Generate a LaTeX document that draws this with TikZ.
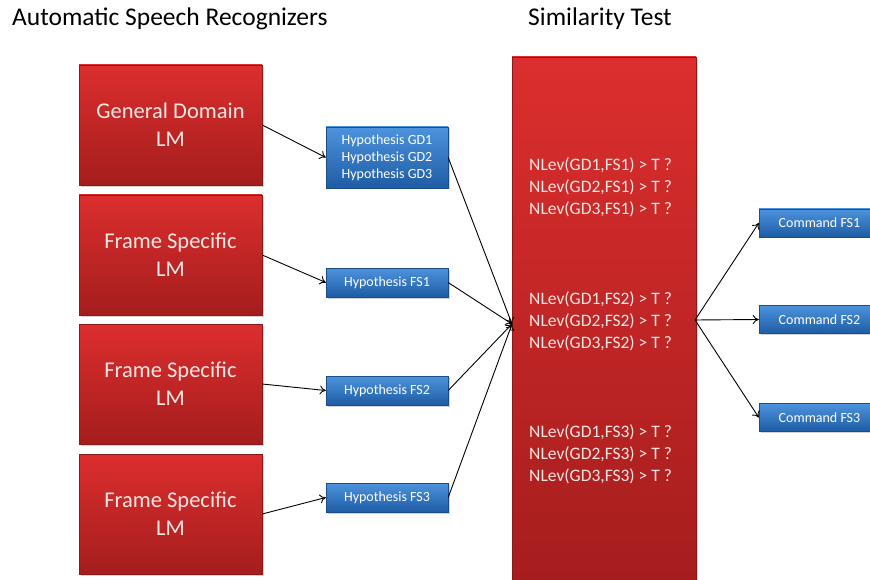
\documentclass[tikz,border=0pt]{standalone}
\usepackage{fontspec}
\setmainfont{Carlito}
\usetikzlibrary{shadows,arrows.meta}
\definecolor{redtop}{HTML}{DC2E2E}
\definecolor{redbot}{HTML}{A51D1D}
\definecolor{bluetop}{HTML}{4D93DD}
\definecolor{bluebot}{HTML}{1E5CA4}
\definecolor{pinkwhite}{HTML}{FBE6E2}

\tikzset{
  redbox/.style={rectangle, top color=redtop, bottom color=redbot, draw=redbot!85!black,
    line width=0.4pt, text=pinkwhite, align=center, inner sep=0pt,
    drop shadow={opacity=0.35, shadow xshift=2pt, shadow yshift=-2pt}},
  asr/.style={redbox, minimum width=183pt, minimum height=120pt,
    font=\fontsize{22.5}{28}\selectfont},
  bluebox/.style={rectangle, top color=bluetop, bottom color=bluebot, draw=bluebot!85!black,
    line width=0.4pt, text=white, align=center, inner sep=0pt,
    drop shadow={opacity=0.35, shadow xshift=1.5pt, shadow yshift=-1.5pt}},
  hyp/.style={bluebox, minimum width=122pt, minimum height=29pt,
    font=\fontsize{14}{17}\selectfont},
  cmd/.style={bluebox, minimum width=121pt, minimum height=28pt,
    font=\fontsize{14}{17}\selectfont},
  test/.style={text=pinkwhite, align=left, anchor=west, inner sep=0pt,
    font=\fontsize{17.5}{22}\selectfont},
  title/.style={font=\fontsize{25.5}{30}\selectfont, inner sep=0pt},
  arr/.style={-{To[length=6pt,width=9pt]}, line width=0.9pt, black}
}

\begin{document}
\begin{tikzpicture}[x=1pt,y=-1pt]
  \useasboundingbox (0,0) rectangle (870,580);
  \clip (0,0) rectangle (870,580);

  % titles
  \node[title, anchor=base west] (asrtitle) at (12,26) {Automatic Speech Recognizers};
  \node[title, anchor=base] (testtitle) at (600,26) {Similarity Test};

  % recognizers
  \node[asr] (asr1) at (170.5,125) {General Domain\\LM};
  \node[asr] (asr2) at (170.5,255) {Frame Specific\\LM};
  \node[asr] (asr3) at (170.5,384) {Frame Specific\\LM};
  \node[asr] (asr4) at (170.5,514) {Frame Specific\\LM};

  % hypotheses
  \node[hyp, minimum height=61pt] (hypgd) at (387,157.5)
    {Hypothesis GD1\\Hypothesis GD2\\Hypothesis GD3};
  \node[hyp] (hypfs1) at (387,282.5) {Hypothesis FS1};
  \node[hyp] (hypfs2) at (387,390.5) {Hypothesis FS2};
  \node[hyp] (hypfs3) at (387,497.5) {Hypothesis FS3};

  % similarity test
  \node[redbox, minimum width=184pt, minimum height=530pt] (simbox) at (604,322) {};
  \node[test] (nlev1) at (529,187)
    {NLev(GD1,FS1) > T ?\\NLev(GD2,FS1) > T ?\\NLev(GD3,FS1) > T ?};
  \node[test] (nlev2) at (529,321)
    {NLev(GD1,FS2) > T ?\\NLev(GD2,FS2) > T ?\\NLev(GD3,FS2) > T ?};
  \node[test] (nlev3) at (529,454)
    {NLev(GD1,FS3) > T ?\\NLev(GD2,FS3) > T ?\\NLev(GD3,FS3) > T ?};
  \coordinate (join) at (512,324);
  \coordinate (fork) at (695,320);

  % commands
  \node[cmd] (cmd1) at (819.5,223) {Command FS1};
  \node[cmd] (cmd2) at (819.5,319.5) {Command FS2};
  \node[cmd] (cmd3) at (819.5,417.5) {Command FS3};

  % connectors
  \draw[arr] (asr1.east) -- (hypgd.west);
  \draw[arr] (asr2.east) -- (hypfs1.west);
  \draw[arr] (asr3.east) -- (hypfs2.west);
  \draw[arr] (asr4.east) -- (hypfs3.west);
  \foreach \h in {hypgd,hypfs1,hypfs2,hypfs3}
    \draw[arr] (\h.east) -- (join);
  \foreach \c in {cmd1,cmd2,cmd3}
    \draw[arr] (fork) -- (\c.west);
\end{tikzpicture}
\end{document}
